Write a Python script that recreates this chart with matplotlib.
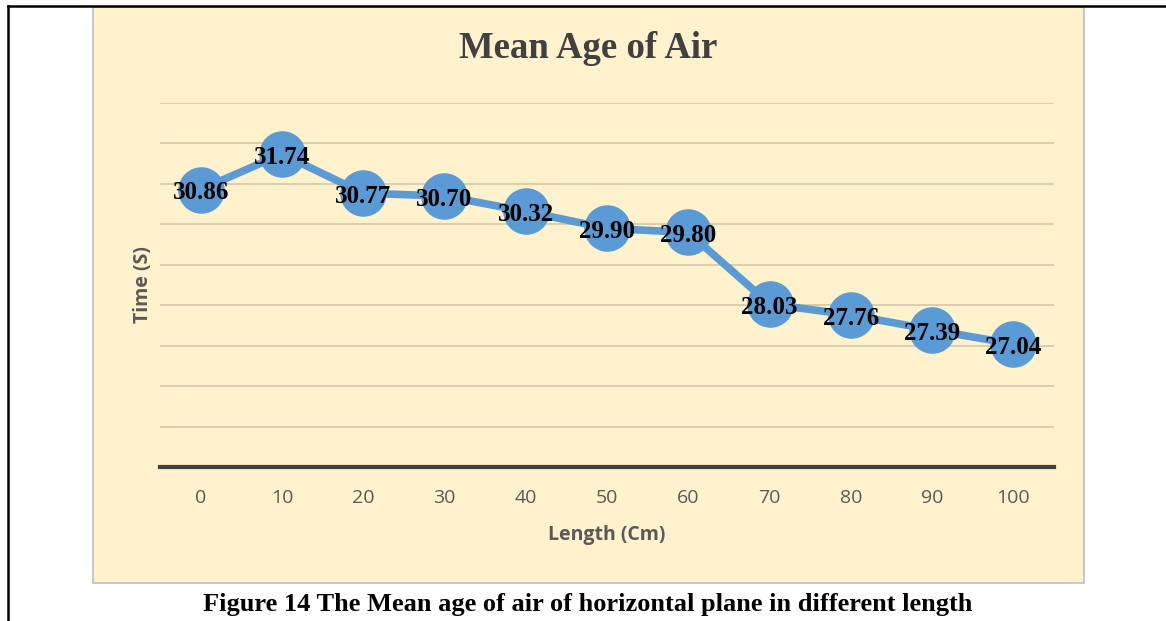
import matplotlib
matplotlib.use("Agg")
import matplotlib.pyplot as plt
from matplotlib.patches import Rectangle
from matplotlib.lines import Line2D

# chart data
lengths = ["0", "10", "20", "30", "40", "50", "60", "70", "80", "90", "100"]
mean_age = [30.86, 31.74, 30.77, 30.70, 30.32, 29.90, 29.80, 28.03, 27.76, 27.39, 27.04]
y_grid = [25, 26, 27, 28, 29, 30, 31, 32, 33]

W, H = 1166, 621
fig = plt.figure(figsize=(W / 100, H / 100), dpi=100)
fig.patch.set_facecolor("white")


def fx(px):
    return px / W


def fy(py):
    return 1 - py / H


# beige chart panel
fig.add_artist(Rectangle((fx(93), fy(583)), fx(1084) - fx(93), fy(7) - fy(583),
                         transform=fig.transFigure, facecolor="#FFF2CC",
                         edgecolor="#BFBFBF", linewidth=1.2, zorder=0))

# page frame lines
fig.add_artist(Line2D([fx(8), fx(8)], [fy(6), 0], transform=fig.transFigure,
                      color="black", linewidth=1.8))
fig.add_artist(Line2D([fx(8), 1], [fy(6), fy(6)], transform=fig.transFigure,
                      color="black", linewidth=1.8))

ax = fig.add_axes([fx(160), fy(467), fx(1054) - fx(160), fy(103) - fy(467)])
ax.set_facecolor("none")

x = list(range(len(lengths)))
ax.plot(x, mean_age, color="#5B9BD5", linewidth=5.5, marker="o",
        markersize=32.5, markerfacecolor="#5B9BD5", markeredgecolor="#5B9BD5",
        zorder=3, clip_on=False)

for xi, v in zip(x, mean_age):
    ax.text(xi, v - 0.08, f"{v:.2f}", ha="center", va="center",
            fontsize=18, fontweight="bold", family="Liberation Serif",
            color="black", zorder=4)

for g in y_grid:
    ax.axhline(g, color="#D5CBAE", linewidth=1.3, zorder=1)

ax.set_xlim(-0.5, len(lengths) - 0.5)
ax.set_ylim(24, 33)
ax.set_yticks([])
ax.set_xticks(x)
ax.set_xticklabels(lengths, fontsize=14, family="Open Sans", color="#595959")
ax.tick_params(axis="x", length=0, pad=16)

for s in ["top", "right", "left"]:
    ax.spines[s].set_visible(False)
ax.spines["bottom"].set_color("#404040")
ax.spines["bottom"].set_linewidth(3)
ax.spines["bottom"].set_zorder(2)

fig.text(fx(607), fy(535), "Length (Cm)", ha="center", va="center",
         fontsize=14, fontweight="bold", family="Open Sans", color="#595959")
fig.text(fx(143), fy(285), "Time (S)", ha="center", va="center", rotation=90,
         fontsize=14, fontweight="bold", family="Open Sans", color="#595959")

fig.text(fx(588), fy(49), "Mean Age of Air", ha="center", va="center",
         fontsize=26.5, fontweight="bold", family="Liberation Serif", color="#404040")

fig.text(fx(588), fy(605), "Figure 14 The Mean age of air of horizontal plane in different length",
         ha="center", va="center", fontsize=19, fontweight="bold",
         family="Liberation Serif", color="black")

fig.savefig("out.png", dpi=100, facecolor=fig.get_facecolor())
